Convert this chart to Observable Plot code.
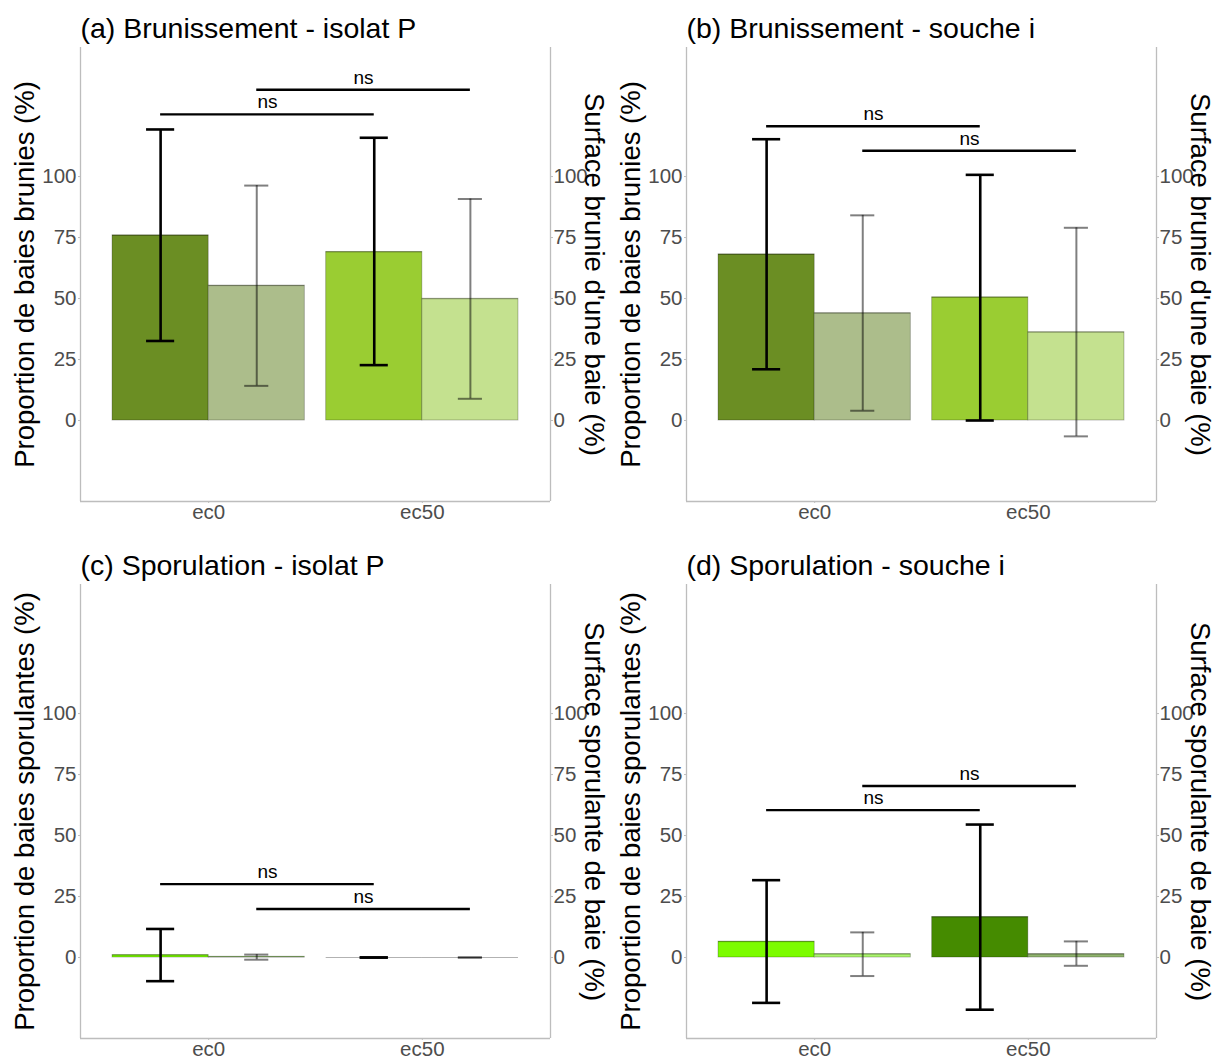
<!DOCTYPE html>
<html>
<head>
<meta charset="utf-8">
<script src="https://cdn.jsdelivr.net/npm/d3@7"></script>
<script src="https://cdn.jsdelivr.net/npm/@observablehq/plot@0.6"></script>
<style>
  body { margin: 0; background: #fff; }
  #wrap { position: relative; width: 1216px; height: 1059px; overflow: hidden; background: #fff; }
  .panel { position: absolute; }
</style>
</head>
<body>
<div id="wrap"></div>
<script>
// ---------- data ----------
const groups = ["ec0", "ec50"];
const yTicks = [0, 25, 50, 75, 100];
const panelTitles = [
  "(a) Brunissement - isolat P",
  "(b) Brunissement - souche i",
  "(c) Sporulation - isolat P",
  "(d) Sporulation - souche i"
];
const leftTitles = [
  "Proportion de baies brunies (%)",
  "Proportion de baies brunies (%)",
  "Proportion de baies sporulantes (%)",
  "Proportion de baies sporulantes (%)"
];
const rightTitles = [
  "Surface brunie d'une baie (%)",
  "Surface brunie d'une baie (%)",
  "Surface sporulante de baie (%)",
  "Surface sporulante de baie (%)"
];
// proportion (left axis), per group ec0, ec50
const propMean = [[75.9, 69.1], [68.1, 50.5], [1.0, 0], [6.5, 16.6]];
const propLow  = [[32.6, 22.7], [21.0, 0.0], [-9.7, 0], [-18.6, -21.4]];
const propHigh = [[119.3, 115.9], [115.3, 100.7], [11.7, 0], [31.7, 54.5]];
// surface (right axis), per group ec0, ec50
const surfMean = [[55.3, 49.9], [44.0, 36.2], [0.3, 0], [1.4, 1.4]];
const surfLow  = [[14.2, 8.9], [4.0, -6.5], [-0.9, 0], [-7.6, -3.4]];
const surfHigh = [[96.3, 90.8], [84.1, 79.0], [1.2, 0], [10.3, 6.6]];
// significance brackets: [proportion bracket y, surface bracket y]
const bracketY = [[125.5, 135.6], [120.6, 110.6], [30.1, 19.9], [60.4, 70.3]];
const bracketLabel = "ns";

// ---------- styles ----------
const palettes = [
  ["#6B8E23", "#ACBD8B", "#9ACD32", "#C4E18F"],
  ["#6B8E23", "#ACBD8B", "#9ACD32", "#C4E18F"],
  ["#7CFC00", "#ABF56E", "#458B00", "#90B46E"],
  ["#7CFC00", "#ABF56E", "#458B00", "#90B46E"]
];
const seriesKeys = ["ec0 prop", "ec0 surf", "ec50 prop", "ec50 surf"];
const FONT = "'Liberation Sans', Arial, Helvetica, sans-serif";
const BW = 0.45;      // bar width in x units
const CAP = 0.047;    // half cap width
const yDomain = [-33.2, 152.9];

function panel(p) {
  const rows = [];
  groups.forEach((g, gi) => {
    ["prop", "surf"].forEach((s, si) => {
      const mean = s === "prop" ? propMean[p][gi] : surfMean[p][gi];
      const lo = s === "prop" ? propLow[p][gi] : surfLow[p][gi];
      const hi = s === "prop" ? propHigh[p][gi] : surfHigh[p][gi];
      const x1 = gi + 1 - BW + si * BW;
      rows.push({group: g, series: s, key: g + " " + s, x1, x2: x1 + BW, xc: x1 + BW / 2, mean, lo, hi});
    });
  });
  const prop = rows.filter(d => d.series === "prop");
  const surf = rows.filter(d => d.series === "surf");
  const brackets = ["prop", "surf"].map((s, si) => ({
    x1: 1 - BW / 2 + si * BW,
    x2: 2 - BW / 2 + si * BW,
    y: bracketY[p][si],
    label: bracketLabel
  }));

  return Plot.plot({
    width: 606,
    height: 524,
    marginLeft: 80,
    marginRight: 56,
    marginTop: 47,
    marginBottom: 23,
    style: {fontFamily: FONT, overflow: "visible", background: "#fff"},
    x: {type: "linear", domain: [0.4, 2.6], axis: null},
    y: {domain: yDomain, axis: null},
    color: {domain: seriesKeys, range: palettes[p]},
    marks: [
      // panel lines (left, right, bottom)
      Plot.ruleX([0.4, 2.6], {stroke: "#bdbdbd", strokeWidth: 1.3}),
      Plot.ruleY([yDomain[0]], {stroke: "#bdbdbd", strokeWidth: 1.3}),
      // axes
      Plot.axisY({anchor: "left", ticks: yTicks, tickSize: 2, tickPadding: 2, stroke: "#bdbdbd", fill: "#4d4d4d", fontSize: 20.5, label: null}),
      Plot.axisY({anchor: "right", ticks: yTicks, tickSize: 2, tickPadding: 1, stroke: "#bdbdbd", fill: "#4d4d4d", fontSize: 20.5, label: null}),
      Plot.axisX({ticks: [1, 2], tickFormat: d => groups[d - 1], tickSize: 2, tickPadding: 1, stroke: "#bdbdbd", fill: "#4d4d4d", fontSize: 20.5, label: null}),
      // bars
      Plot.rectY(rows, {x1: "x1", x2: "x2", y1: 0, y2: "mean", fill: "key", stroke: "#000", strokeOpacity: 0.28, strokeWidth: 0.9}),
      // bar top outline (visible for zero-height bars)
      Plot.ruleY(rows, {y: "mean", x1: "x1", x2: "x2", stroke: "#000", strokeOpacity: 0.3, strokeWidth: 1}),
      // error bars - surface (gray)
      Plot.ruleX(surf, {x: "xc", y1: "lo", y2: "hi", stroke: "#000", strokeOpacity: 0.5, strokeWidth: 2}),
      Plot.ruleY(surf, {y: "lo", x1: d => d.xc - CAP * 1.2, x2: d => d.xc + CAP * 1.2, stroke: "#000", strokeOpacity: 0.5, strokeWidth: 2}),
      Plot.ruleY(surf, {y: "hi", x1: d => d.xc - CAP * 1.2, x2: d => d.xc + CAP * 1.2, stroke: "#000", strokeOpacity: 0.5, strokeWidth: 2}),
      // error bars - proportion (black)
      Plot.ruleX(prop, {x: "xc", y1: "lo", y2: "hi", stroke: "#000", strokeWidth: 2.6}),
      Plot.ruleY(prop, {y: "lo", x1: d => d.xc - CAP * 1.4, x2: d => d.xc + CAP * 1.4, stroke: "#000", strokeWidth: 2.6}),
      Plot.ruleY(prop, {y: "hi", x1: d => d.xc - CAP * 1.4, x2: d => d.xc + CAP * 1.4, stroke: "#000", strokeWidth: 2.6}),
      // significance brackets
      Plot.ruleY(brackets, {y: "y", x1: "x1", x2: "x2", stroke: "#000", strokeWidth: 2.4}),
      Plot.text(brackets, {x: d => (d.x1 + d.x2) / 2, y: "y", text: "label", dy: -12, fontSize: 19, fill: "#000", lineAnchor: "middle"}),
      // panel title
      Plot.text([panelTitles[p]], {frameAnchor: "top-left", text: d => d, dx: 0, dy: -19, textAnchor: "start", lineAnchor: "middle", fontSize: 28.5, fill: "#000"}),
      // axis titles
      Plot.text([leftTitles[p]], {frameAnchor: "left", text: d => d, dx: -55, rotate: -90, textAnchor: "middle", lineAnchor: "middle", fontSize: 27.5, fill: "#000"}),
      Plot.text([rightTitles[p]], {frameAnchor: "right", text: d => d, dx: 43, rotate: 90, textAnchor: "middle", lineAnchor: "middle", fontSize: 27.5, fill: "#000"})
    ]
  });
}

const wrap = document.getElementById("wrap");
const offsets = [[0, 0], [606, 0], [0, 537], [606, 537]];
offsets.forEach(([left, top], p) => {
  const div = document.createElement("div");
  div.className = "panel";
  div.style.left = left + "px";
  div.style.top = top + "px";
  div.appendChild(panel(p));
  wrap.appendChild(div);
});
</script>
</body>
</html>
